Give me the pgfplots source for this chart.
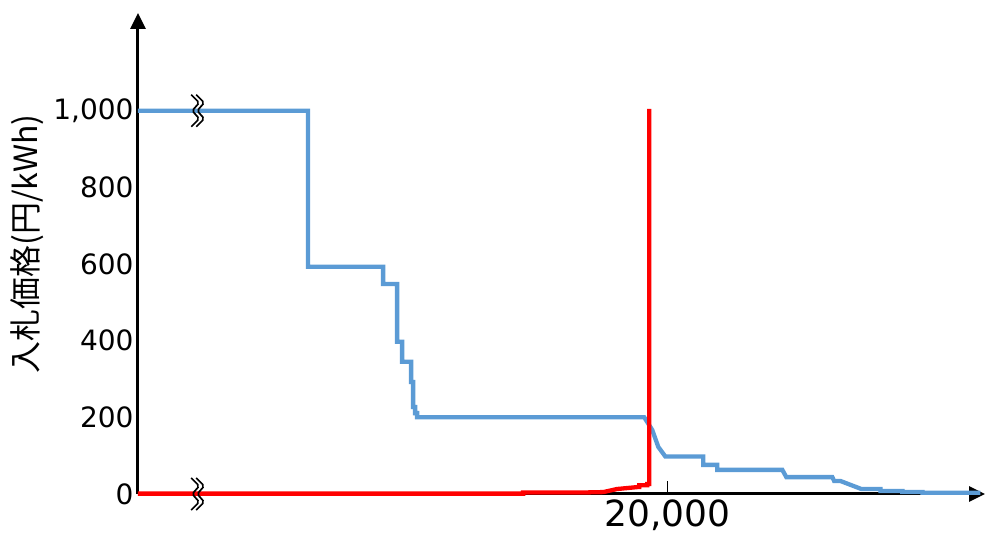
\documentclass[border=0pt]{standalone}
\usepackage{pgfplots}
\pgfplotsset{compat=1.18}
\usetikzlibrary{arrows.meta}
\usepackage{fontspec}
\setmainfont{DejaVu Sans}
\newfontfamily\cjk{Noto Sans CJK JP}
\definecolor{bidblue}{RGB}{91,155,213}
\definecolor{bidred}{RGB}{255,0,0}

\begin{document}
\begin{tikzpicture}
\useasboundingbox (-138pt,-40pt) rectangle (849pt,494pt);
\begin{axis}[
    scale only axis,
    width=847pt, height=481pt,
    xmin=0, xmax=32000,
    ymin=0, ymax=1255,
    axis lines=left,
    axis line style={line width=3pt, -{Triangle[length=16pt,width=15pt]}},
    clip=false,
    scaled ticks=false,
    xtick={20000},
    xticklabels={20{,}000},
    ytick={0,200,400,600,800,1000},
    yticklabels={0,200,400,600,800,1{,}000},
    tick align=inside,
    major tick length=13pt,
    xtick style={line width=1.5pt, black},
    ytick style={draw=none},
    y tick label style={font=\fontsize{28}{30}\selectfont, xshift=-1pt},
    x tick label style={font=\fontsize{36}{40}\selectfont, yshift=-2pt},
    ylabel={\cjk 入札価格(円/kWh)},
    ylabel style={font=\fontsize{32}{34}\selectfont, at={(axis description cs:-0.131,0.52)}, anchor=center},
]

% 落札曲線 (青)
\addplot[bidblue, line width=4.3pt, line join=miter] coordinates {
    (0,1000) (6426,1000) (6426,593) (9261,593) (9261,548)
    (9790,548) (9790,397) (9979,397) (9979,345)
    (10319,345) (10319,292) (10395,292) (10395,227)
    (10470,227) (10470,211) (10546,211) (10546,200)
    (19127,200) (19429,167) (19656,123) (19921,98)
    (21357,98) (21357,76) (21886,76) (21886,63)
    (24343,63) (24494,44) (26233,44) (26300,34)
    (26536,34) (27329,13) (28048,13) (28048,8)
    (28879,8) (28879,5) (29635,5) (29635,3) (31828,3)
};

% 入札曲線 (赤)
\addplot[bidred, line width=4.3pt, line join=miter] coordinates {
    (0,1) (14550,1) (14550,4) (16900,4) (17580,5)
    (18100,13) (18860,18) (18940,18) (18940,23)
    (19240,23) (19240,26) (19316,26) (19316,1005)
};

% 省略記号
\draw[black, line width=1.7pt, rounded corners=2pt]
  (axis cs:2200,1000) ++(-5pt,16pt) -- ++(8pt,-8pt) -- ++(-7pt,-8pt) -- ++(7pt,-8pt) -- ++(-8pt,-8pt);
\draw[black, line width=1.7pt, rounded corners=2pt]
  (axis cs:2200,1000) ++(0pt,16pt) -- ++(8pt,-8pt) -- ++(-7pt,-8pt) -- ++(7pt,-8pt) -- ++(-8pt,-8pt);
\draw[black, line width=1.7pt, rounded corners=2pt]
  (axis cs:2200,0) ++(-5pt,16pt) -- ++(8pt,-8pt) -- ++(-7pt,-8pt) -- ++(7pt,-8pt) -- ++(-8pt,-8pt);
\draw[black, line width=1.7pt, rounded corners=2pt]
  (axis cs:2200,0) ++(0pt,16pt) -- ++(8pt,-8pt) -- ++(-7pt,-8pt) -- ++(7pt,-8pt) -- ++(-8pt,-8pt);
\end{axis}
\end{tikzpicture}
\end{document}
